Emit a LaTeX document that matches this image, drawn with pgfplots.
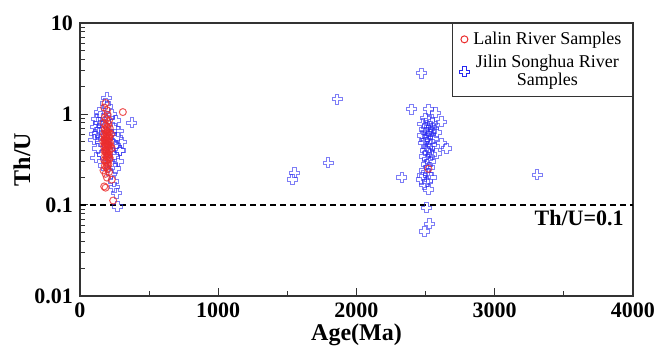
\documentclass[border=0pt]{standalone}
\usepackage{pgfplots}
\pgfplotsset{compat=1.18}
\usepackage{pgfplotstable}
\usepackage{fontspec}
\setmainfont{Liberation Serif}

\definecolor{lalinred}{RGB}{235,45,45}
\definecolor{jilinblue}{RGB}{40,40,240}

\pgfdeclareplotmark{ocross}{%
  \pgfpathmoveto{\pgfqpoint{-0.36\pgfplotmarksize}{\pgfplotmarksize}}%
  \pgfpathlineto{\pgfqpoint{0.36\pgfplotmarksize}{\pgfplotmarksize}}%
  \pgfpathlineto{\pgfqpoint{0.36\pgfplotmarksize}{0.36\pgfplotmarksize}}%
  \pgfpathlineto{\pgfqpoint{\pgfplotmarksize}{0.36\pgfplotmarksize}}%
  \pgfpathlineto{\pgfqpoint{\pgfplotmarksize}{-0.36\pgfplotmarksize}}%
  \pgfpathlineto{\pgfqpoint{0.36\pgfplotmarksize}{-0.36\pgfplotmarksize}}%
  \pgfpathlineto{\pgfqpoint{0.36\pgfplotmarksize}{-\pgfplotmarksize}}%
  \pgfpathlineto{\pgfqpoint{-0.36\pgfplotmarksize}{-\pgfplotmarksize}}%
  \pgfpathlineto{\pgfqpoint{-0.36\pgfplotmarksize}{-0.36\pgfplotmarksize}}%
  \pgfpathlineto{\pgfqpoint{-\pgfplotmarksize}{-0.36\pgfplotmarksize}}%
  \pgfpathlineto{\pgfqpoint{-\pgfplotmarksize}{0.36\pgfplotmarksize}}%
  \pgfpathlineto{\pgfqpoint{-0.36\pgfplotmarksize}{0.36\pgfplotmarksize}}%
  \pgfpathclose
  \pgfusepathqstroke
}

\pgfplotstableread{
age thu
185 1.32
175 1.18
195 1.10
310 1.05
200 0.98
180 0.92
190 0.88
210 0.85
170 0.80
205 0.78
185 0.75
195 0.72
215 0.70
178 0.68
188 0.66
200 0.64
208 0.62
172 0.60
182 0.58
192 0.57
202 0.56
212 0.55
176 0.53
186 0.52
196 0.51
206 0.50
216 0.49
180 0.48
190 0.47
200 0.46
210 0.45
174 0.44
184 0.43
194 0.42
204 0.41
214 0.40
178 0.39
188 0.38
198 0.37
208 0.36
182 0.35
192 0.34
202 0.33
212 0.32
176 0.31
186 0.30
196 0.29
206 0.28
180 0.27
190 0.26
200 0.25
170 0.24
210 0.23
185 0.22
195 0.20
230 0.19
175 0.16
185 0.155
240 0.112
198 0.60
188 0.55
205 0.44
193 0.39
183 0.46
203 0.35
190 0.62
180 0.52
195 0.48
210 0.58
200 0.70
185 0.40
192 0.31
198 0.27
215 0.33
220 0.45
168 0.50
225 0.60
230 0.42
2520 0.25
}\lalin

\pgfplotstableread{
age thu
195 1.50
185 1.30
200 1.20
150 0.95
120 0.88
135 0.80
375 0.80
165 0.75
110 0.72
250 0.70
140 0.68
280 0.65
125 0.62
230 0.60
155 0.58
270 0.55
100 0.52
145 0.50
240 0.48
260 0.45
130 0.42
290 0.40
220 0.38
160 0.36
250 0.34
115 0.33
275 0.30
235 0.28
170 0.27
255 0.25
225 0.22
245 0.18
250 0.157
265 0.135
270 0.097
300 0.49
288 0.40
210 0.90
230 1.00
140 1.05
260 0.85
108 0.60
1535 0.19
1550 0.225
1795 0.29
1860 1.46
2328 0.20
2400 1.13
2472 2.82
2520 1.13
2570 1.03
2617 0.82
2652 0.42
2617 0.48
2580 0.63
2580 0.37
2490 0.166
2520 0.147
2505 0.093
2530 0.062
2490 0.051
2500 0.90
2530 0.85
2550 0.80
2480 0.78
2510 0.75
2540 0.72
2560 0.70
2490 0.68
2520 0.66
2545 0.64
2505 0.62
2535 0.60
2475 0.58
2515 0.56
2555 0.54
2495 0.52
2525 0.50
2485 0.48
2540 0.46
2510 0.44
2530 0.42
2500 0.40
2520 0.38
2545 0.36
2490 0.34
2515 0.32
2535 0.30
2505 0.28
2525 0.26
2495 0.24
2520 0.22
2480 0.21
2540 0.20
2470 0.19
2510 0.18
3306 0.214
}\jilin

\begin{document}
\begin{tikzpicture}
\begin{axis}[
  scale only axis,
  width=276.5pt, height=136.5pt,
  xmin=0, xmax=4000,
  ymode=log, ymin=0.01, ymax=10,
  xtick={0,1000,2000,3000,4000},
  minor xtick={500,1500,2500,3500},
  ytick={0.01,0.1,1,10},
  yticklabels={0.01,0.1,1,10},
  minor ytick={0.02,0.03,0.04,0.05,0.06,0.07,0.08,0.09,0.2,0.3,0.4,0.5,0.6,0.7,0.8,0.9,2,3,4,5,6,7,8,9},
  tick pos=left, tick align=inside,
  major tick length=4pt, minor tick length=2.3pt,
  every tick/.style={black!80, line width=0.5pt},
  axis line style={black!80, line width=0.8pt},
  /pgf/number format/assume math mode=true,
  ticklabel style={font=\fontsize{11}{12}\selectfont\bfseries},
  scaled x ticks=false,
  xticklabel={\pgfmathprintnumber[fixed,precision=0,1000 sep={}]{\tick}},
  xlabel={Age(Ma)},
  ylabel={Th/U},
  xlabel style={font=\fontsize{12}{13}\selectfont\bfseries, at={(axis description cs:0.5,-0.143)}, anchor=center},
  ylabel style={font=\fontsize{12}{13}\selectfont\bfseries, at={(axis description cs:-0.105,0.5)}, anchor=center},
  legend style={at={(1,1)}, anchor=north east, draw=black!80, line width=0.6pt,
    font=\fontsize{9}{9}\selectfont, cells={align=center}, inner xsep=3.5pt, inner ysep=2pt,
    row sep=0pt},
  legend cell align=center,
]
\addlegendimage{only marks, mark=o, mark size=1.75pt, draw=lalinred, line width=0.5pt}
\addlegendentry{Lalin River Samples}
\addlegendimage{only marks, mark=ocross, mark size=2.5pt, draw=jilinblue, line width=0.5pt}
\addlegendentry{Jilin Songhua River\\Samples}

\addplot[forget plot, only marks, mark=ocross, mark size=2.5pt, draw=jilinblue, draw opacity=0.6, line width=0.5pt] table[x=age, y=thu] {\jilin};
\addplot[forget plot, only marks, mark=o, mark size=1.75pt, draw=lalinred, draw opacity=0.8, line width=0.5pt] table[x=age, y=thu] {\lalin};
\addplot[forget plot, black, dashed, line width=0.8pt, dash pattern=on 3pt off 2pt] coordinates {(0,0.1) (4000,0.1)};
\node[anchor=north east, inner sep=0pt, yshift=-2.5pt, font=\fontsize{11}{12}\selectfont\bfseries] at (axis cs:3935,0.1) {Th/U=0.1};
\end{axis}
\pgfresetboundingbox
\useasboundingbox (-40pt,-25.5pt) rectangle (290pt,148pt);
\end{tikzpicture}
\end{document}
